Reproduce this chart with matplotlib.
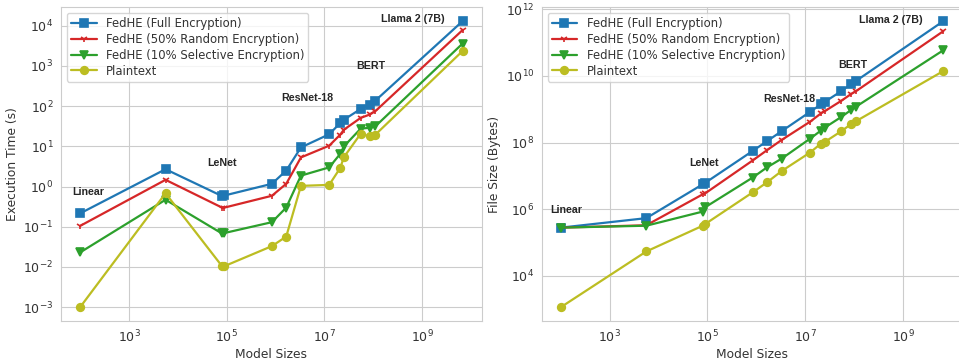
import matplotlib
matplotlib.use("Agg")
import matplotlib.pyplot as plt
import seaborn as sns

# model sizes (number of parameters)
model_sizes = [1e2, 5.6e3, 8.0e4, 9.0e4, 8.4e5, 1.65e6, 3.3e6, 1.25e7, 2.1e7, 2.5e7, 5.5e7, 8.5e7, 1.1e8, 6.7e9]

# execution time (s)
full_time = [0.215, 2.7, 0.58, 0.60, 1.17, 2.5, 9.4, 20, 38, 46, 85, 109, 137, 13000]
random_time = [0.105, 1.47, 0.30, 0.30, 0.59, 1.17, 5.3, 10.4, 19.5, 26, 51, 62, 75, 7800]
sel_time = [0.023, 0.47, 0.068, 0.07, 0.13, 0.30, 1.87, 3.0, 6.5, 10, 27.5, 29, 31.5, 3600]
plain_time = [0.001, 0.68, 0.0105, 0.0105, 0.033, 0.057, 1.04, 1.1, 2.9, 5.4, 20.5, 17.7, 19.5, 2350]

# file size (bytes)
full_size = [2.8e5, 5.4e5, 5.6e6, 6.2e6, 5.6e7, 1.1e8, 2.2e8, 8.3e8, 1.4e9, 1.66e9, 3.5e9, 5.6e9, 7.1e9, 4.4e11]
random_size = [2.8e5, 3.3e5, 2.8e6, 3.0e6, 2.9e7, 5.9e7, 1.2e8, 4.2e8, 7.5e8, 8.7e8, 1.8e9, 2.8e9, 3.5e9, 2.2e11]
sel_size = [2.8e5, 3.2e5, 8.5e5, 1.15e6, 8.9e6, 1.8e7, 3.3e7, 1.3e8, 2.3e8, 2.8e8, 5.9e8, 9.3e8, 1.2e9, 5.9e10]
plain_size = [1.15e3, 5.4e4, 3.2e5, 3.6e5, 3.2e6, 6.4e6, 1.4e7, 5e7, 9.3e7, 1.04e8, 2.2e8, 3.5e8, 4.4e8, 1.4e10]

series_names = ["FedHE (Full Encryption)", "FedHE (50% Random Encryption)",
                "FedHE (10% Selective Encryption)", "Plaintext"]

# model name labels and where they sit
model_names = ["Linear", "LeNet", "ResNet-18", "BERT", "Llama 2 (7B)"]
time_label_x = [1.5e2, 8.0e4, 4.5e6, 9.0e7, 6.3e8]
time_label_y = [0.75, 3.8, 160, 1000, 15000]
size_label_x = [1.26e2, 8.5e4, 4.7e6, 9.5e7, 5.6e8]
size_label_y = [9.7e5, 2.5e7, 2.0e9, 2.1e10, 4.9e11]

sns.set_style("whitegrid")
plt.rcParams["font.family"] = ["DejaVu Sans"]

colors = ["#1f77b4", "#d62728", "#2ca02c", "#bcbd22"]
markers = ["s", "1", "v", "o"]
msizes = [5.5, 5, 5.5, 5.5]

fig = plt.figure(figsize=(9.59, 3.6), dpi=100)
ax1 = fig.add_axes([0.0636, 0.107, 0.4387, 0.874])
ax2 = fig.add_axes([0.5649, 0.107, 0.4387, 0.874])


def draw(ax, ys, lx, ly, ylabel, yticks):
    for y, name, c, m, ms in zip(ys, series_names, colors, markers, msizes):
        ax.plot(model_sizes, y, color=c, marker=m, markersize=ms, lw=1.6,
                mew=1.2, label=name)
    ax.set_xscale("log")
    ax.set_yscale("log")
    ax.set_xticks([1e3, 1e5, 1e7, 1e9])
    ax.set_yticks(yticks)
    ax.minorticks_off()
    ax.tick_params(labelsize=9, pad=2, labelcolor="0.2")
    ax.set_xlabel("Model Sizes", fontsize=8.8, labelpad=2, color="0.2")
    ax.set_ylabel(ylabel, fontsize=8.8, labelpad=3, color="0.2")
    for name, x, y in zip(model_names, lx, ly):
        ax.text(x, y, name, ha="center", va="center", fontsize=7.7,
                fontweight="bold", family=["Liberation Sans", "DejaVu Sans"])
    leg = ax.legend(loc="upper left", fontsize=8.4, frameon=True,
                    handlelength=2.2, borderpad=0.35, labelspacing=0.25)
    leg.get_frame().set_edgecolor("0.8")
    for t in leg.get_texts():
        t.set_color("0.2")


draw(ax1, [full_time, random_time, sel_time, plain_time], time_label_x,
     time_label_y, "Execution Time (s)", [1e-3, 1e-2, 1e-1, 1, 10, 1e2, 1e3, 1e4])
draw(ax2, [full_size, random_size, sel_size, plain_size], size_label_x,
     size_label_y, "File Size (Bytes)", [1e4, 1e6, 1e8, 1e10, 1e12])

fig.savefig("out.png", dpi=100)
